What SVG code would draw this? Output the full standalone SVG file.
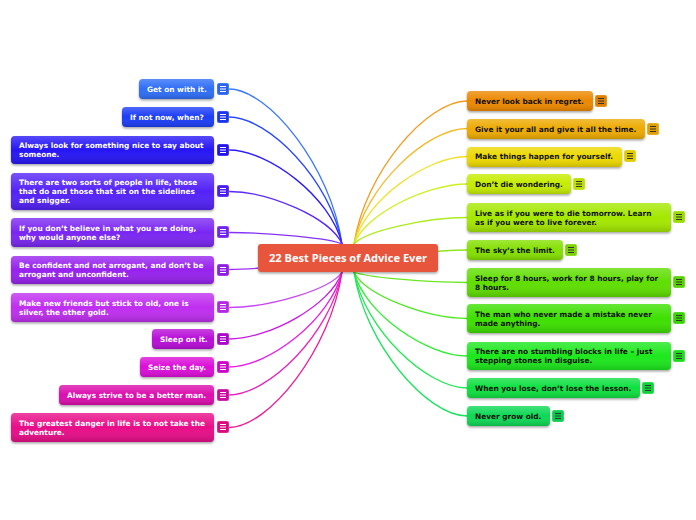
<svg xmlns="http://www.w3.org/2000/svg" xmlns:xlink="http://www.w3.org/1999/xlink" width="696" height="520" viewBox="0 0 696 520">
<style>
.box{filter:url(#ds)}
.gl{fill:url(#shade);pointer-events:none}
.tl{font-family:"DejaVu Sans",Verdana,sans-serif;font-weight:bold;font-size:7.4px;fill:#fff}
.tr{font-family:"DejaVu Sans",Verdana,sans-serif;font-weight:bold;font-size:7.4px;fill:#111}
.tc{font-family:"Open Sans","DejaVu Sans",sans-serif;font-weight:bold;font-size:11.1px;fill:#fff}
.ic{stroke:rgba(255,255,255,0.35);stroke-width:0.8}
.cn path{fill:none;stroke-width:1.3}
</style>
<defs>
<linearGradient id="shade" x1="0" y1="0" x2="0" y2="1">
<stop offset="0" stop-color="#fff" stop-opacity="0.22"/>
<stop offset="0.5" stop-color="#fff" stop-opacity="0"/>
<stop offset="1" stop-color="#000" stop-opacity="0.16"/>
</linearGradient>
<filter id="ds" x="-10%" y="-30%" width="120%" height="170%">
<feDropShadow dx="0" dy="1.5" stdDeviation="1" flood-color="#000" flood-opacity="0.35"/>
</filter>
<path id="lw" d="M3,3.5h6M3,6h6M3,8.5h6" stroke="#fff" stroke-width="1"/>
<path id="ld" d="M3,3.5h6M3,6h6M3,8.5h6" stroke="#333" stroke-width="1"/>
</defs>
<rect width="696" height="520" fill="#fff"/>

<g id="connectors" class="cn">
<path d="M229,89 C268.5,89 330.7,166.5 342,244" stroke="#3a78ff"/>
<path d="M229,117 C268.5,117 330.7,180.5 342,244" stroke="#2a48ff"/>
<path d="M229,150 C268.5,150 330.7,197 342,244" stroke="#2a1cff"/>
<path d="M229,191.5 C268.5,191.5 330.7,217.75 342,244" stroke="#5a28ff"/>
<path d="M229,232.5 C268.5,232.5 330.7,238.25 342,244" stroke="#8434f8"/>
<path d="M229,269.5 C270,269.5 310,262 342,258" stroke="#a030f4"/>
<path d="M229,307.5 C268.5,307.5 330.7,289.75 342,272" stroke="#c844f4"/>
<path d="M229,339 C268.5,339 330.7,305.5 342,272" stroke="#c818e4"/>
<path d="M229,367 C268.5,367 330.7,319.5 342,272" stroke="#e81ee8"/>
<path d="M229,395 C268.5,395 330.7,333.5 342,272" stroke="#e824bc"/>
<path d="M229,427.5 C268.5,427.5 330.7,349.75 342,272" stroke="#f01a94"/>
<path d="M354,244 C365,172.5 427,101 467,101" stroke="#f49a1c"/>
<path d="M354,244 C365,186.25 427,128.5 467,128.5" stroke="#f4b824"/>
<path d="M354,244 C365,200.25 427,156.5 467,156.5" stroke="#f2e020"/>
<path d="M354,244 C365,214 427,184 467,184" stroke="#cef020"/>
<path d="M354,244 C365,230.75 427,217.5 467,217.5" stroke="#acec20"/>
<path d="M354,258 C400,256 430,250 467,250" stroke="#8ee620"/>
<path d="M354,272 C365,277.25 427,282.5 467,282.5" stroke="#6ce620"/>
<path d="M354,272 C365,295.25 427,318.5 467,318.5" stroke="#4ee820"/>
<path d="M354,272 C365,314 427,356 467,356" stroke="#2cee2c"/>
<path d="M354,272 C365,330 427,388 467,388" stroke="#20ea50"/>
<path d="M354,272 C365,344 427,416 467,416" stroke="#1ee460"/>
</g>

<g id="center">
<rect class="box" x="258" y="244" width="180" height="28" rx="3" fill="#e8553d"/>
<text class="tc" x="348" y="262" text-anchor="middle">22 Best Pieces of Advice Ever</text>
</g>

<g id="l1"><rect class="box" x="139" y="79" width="75" height="20" rx="4" fill="#2f6ef7"/><rect class="gl" x="139" y="79" width="75" height="20" rx="4"/><text class="tl" x="147" y="91.7">Get on with it.</text><rect class="ic" x="217" y="83" width="12" height="12" rx="2" fill="#2a64ee"/><use href="#lw" x="217" y="83"/></g>
<g id="l2"><rect class="box" x="122" y="107" width="92" height="20" rx="4" fill="#1f3cf7"/><rect class="gl" x="122" y="107" width="92" height="20" rx="4"/><text class="tl" x="130" y="119.7">If not now, when?</text><rect class="ic" x="217" y="111" width="12" height="12" rx="2" fill="#1c36ee"/><use href="#lw" x="217" y="111"/></g>
<g id="l3"><rect class="box" x="11" y="136" width="203" height="28" rx="4" fill="#2516f5"/><rect class="gl" x="11" y="136" width="203" height="28" rx="4"/><text class="tl" x="19" y="148.2">Always look for something nice to say about</text><text class="tl" x="19" y="157.2">someone.</text><rect class="ic" x="217" y="144" width="12" height="12" rx="2" fill="#2214ea"/><use href="#lw" x="217" y="144"/></g>
<g id="l4"><rect class="box" x="11" y="173" width="203" height="37" rx="4" fill="#5320f8"/><rect class="gl" x="11" y="173" width="203" height="37" rx="4"/><text class="tl" x="19" y="185.2">There are two sorts of people in life, those</text><text class="tl" x="19" y="194.2">that do and those that sit on the sidelines</text><text class="tl" x="19" y="203.2">and snigger.</text><rect class="ic" x="217" y="185" width="12" height="12" rx="2" fill="#4c1cee"/><use href="#lw" x="217" y="185"/></g>
<g id="l5"><rect class="box" x="11" y="218" width="203" height="29" rx="4" fill="#7a28f2"/><rect class="gl" x="11" y="218" width="203" height="29" rx="4"/><text class="tl" x="19" y="230.7">If you don’t believe in what you are doing,</text><text class="tl" x="19" y="239.7">why would anyone else?</text><rect class="ic" x="217" y="226" width="12" height="12" rx="2" fill="#7224ea"/><use href="#lw" x="217" y="226"/></g>
<g id="l6"><rect class="box" x="11" y="256" width="203" height="28" rx="4" fill="#9722ee"/><rect class="gl" x="11" y="256" width="203" height="28" rx="4"/><text class="tl" x="19" y="268.2">Be confident and not arrogant, and don’t be</text><text class="tl" x="19" y="277.2">arrogant and unconfident.</text><rect class="ic" x="217" y="264" width="12" height="12" rx="2" fill="#8e1ee4"/><use href="#lw" x="217" y="264"/></g>
<g id="l7"><rect class="box" x="11" y="293" width="203" height="29" rx="4" fill="#bf2ff0"/><rect class="gl" x="11" y="293" width="203" height="29" rx="4"/><text class="tl" x="19" y="305.7">Make new friends but stick to old, one is</text><text class="tl" x="19" y="314.7">silver, the other gold.</text><rect class="ic" x="217" y="301" width="12" height="12" rx="2" fill="#b428e4"/><use href="#lw" x="217" y="301"/></g>
<g id="l8"><rect class="box" x="152" y="329" width="62" height="20" rx="4" fill="#b80ad8"/><rect class="gl" x="152" y="329" width="62" height="20" rx="4"/><text class="tl" x="160" y="341.7">Sleep on it.</text><rect class="ic" x="217" y="333" width="12" height="12" rx="2" fill="#ac08cc"/><use href="#lw" x="217" y="333"/></g>
<g id="l9"><rect class="box" x="140" y="357" width="74" height="20" rx="4" fill="#dc0ad8"/><rect class="gl" x="140" y="357" width="74" height="20" rx="4"/><text class="tl" x="148" y="369.7">Seize the day.</text><rect class="ic" x="217" y="361" width="12" height="12" rx="2" fill="#cc08c8"/><use href="#lw" x="217" y="361"/></g>
<g id="l10"><rect class="box" x="59" y="385" width="155" height="20" rx="4" fill="#dc0cae"/><rect class="gl" x="59" y="385" width="155" height="20" rx="4"/><text class="tl" x="67" y="397.7">Always strive to be a better man.</text><rect class="ic" x="217" y="389" width="12" height="12" rx="2" fill="#cc0aa2"/><use href="#lw" x="217" y="389"/></g>
<g id="l11"><rect class="box" x="11" y="413" width="203" height="29" rx="4" fill="#e80c88"/><rect class="gl" x="11" y="413" width="203" height="29" rx="4"/><text class="tl" x="19" y="425.7">The greatest danger in life is to not take the</text><text class="tl" x="19" y="434.7">adventure.</text><rect class="ic" x="217" y="421" width="12" height="12" rx="2" fill="#d80a7e"/><use href="#lw" x="217" y="421"/></g>

<g id="r1"><rect class="box" x="467" y="91" width="126" height="20" rx="4" fill="#ec8800"/><rect class="gl" x="467" y="91" width="126" height="20" rx="4"/><text class="tr" x="475" y="103.7">Never look back in regret.</text><rect class="ic" x="595" y="95" width="12" height="12" rx="2" fill="#e08000"/><use href="#ld" x="595" y="95"/></g>
<g id="r2"><rect class="box" x="467" y="119" width="178" height="20" rx="4" fill="#edaa00"/><rect class="gl" x="467" y="119" width="178" height="20" rx="4"/><text class="tr" x="475" y="131.7">Give it your all and give it all the time.</text><rect class="ic" x="647" y="123" width="12" height="12" rx="2" fill="#e0a000"/><use href="#ld" x="647" y="123"/></g>
<g id="r3"><rect class="box" x="467" y="147" width="155" height="20" rx="4" fill="#ecd800"/><rect class="gl" x="467" y="147" width="155" height="20" rx="4"/><text class="tr" x="475" y="159.2">Make things happen for yourself.</text><rect class="ic" x="624" y="150" width="12" height="12" rx="2" fill="#e0cc00"/><use href="#ld" x="624" y="150"/></g>
<g id="r4"><rect class="box" x="467" y="174" width="104" height="20" rx="4" fill="#c6ec00"/><rect class="gl" x="467" y="174" width="104" height="20" rx="4"/><text class="tr" x="475" y="186.7">Don’t die wondering.</text><rect class="ic" x="573" y="178" width="12" height="12" rx="2" fill="#bae000"/><use href="#ld" x="573" y="178"/></g>
<g id="r5"><rect class="box" x="467" y="203" width="204" height="29" rx="4" fill="#a4e800"/><rect class="gl" x="467" y="203" width="204" height="29" rx="4"/><text class="tr" x="475" y="215.7">Live as if you were to die tomorrow. Learn</text><text class="tr" x="475" y="224.7">as if you were to live forever.</text><rect class="ic" x="673" y="211" width="12" height="12" rx="2" fill="#9adc00"/><use href="#ld" x="673" y="211"/></g>
<g id="r6"><rect class="box" x="467" y="240" width="96" height="20" rx="4" fill="#84e000"/><rect class="gl" x="467" y="240" width="96" height="20" rx="4"/><text class="tr" x="475" y="252.7">The sky’s the limit.</text><rect class="ic" x="565" y="244" width="12" height="12" rx="2" fill="#7cd400"/><use href="#ld" x="565" y="244"/></g>
<g id="r7"><rect class="box" x="467" y="268" width="204" height="29" rx="4" fill="#5ede00"/><rect class="gl" x="467" y="268" width="204" height="29" rx="4"/><text class="tr" x="475" y="280.7">Sleep for 8 hours, work for 8 hours, play for</text><text class="tr" x="475" y="289.7">8 hours.</text><rect class="ic" x="673" y="276" width="12" height="12" rx="2" fill="#56d200"/><use href="#ld" x="673" y="276"/></g>
<g id="r8"><rect class="box" x="467" y="304" width="204" height="29" rx="4" fill="#3ee000"/><rect class="gl" x="467" y="304" width="204" height="29" rx="4"/><text class="tr" x="475" y="316.7">The man who never made a mistake never</text><text class="tr" x="475" y="325.7">made anything.</text><rect class="ic" x="673" y="312" width="12" height="12" rx="2" fill="#38d400"/><use href="#ld" x="673" y="312"/></g>
<g id="r9"><rect class="box" x="467" y="342" width="204" height="28" rx="4" fill="#1ee81e"/><rect class="gl" x="467" y="342" width="204" height="28" rx="4"/><text class="tr" x="475" y="354.2">There are no stumbling blocks in life – just</text><text class="tr" x="475" y="363.2">stepping stones in disguise.</text><rect class="ic" x="673" y="350" width="12" height="12" rx="2" fill="#1adc1a"/><use href="#ld" x="673" y="350"/></g>
<g id="r10"><rect class="box" x="467" y="378" width="173" height="20" rx="4" fill="#10e040"/><rect class="gl" x="467" y="378" width="173" height="20" rx="4"/><text class="tr" x="475" y="390.7">When you lose, don’t lose the lesson.</text><rect class="ic" x="642" y="382" width="12" height="12" rx="2" fill="#0ed43a"/><use href="#ld" x="642" y="382"/></g>
<g id="r11"><rect class="box" x="467" y="406" width="83" height="20" rx="4" fill="#0ed855"/><rect class="gl" x="467" y="406" width="83" height="20" rx="4"/><text class="tr" x="475" y="418.7">Never grow old.</text><rect class="ic" x="552" y="410" width="12" height="12" rx="2" fill="#0ccc4e"/><use href="#ld" x="552" y="410"/></g>
</svg>
